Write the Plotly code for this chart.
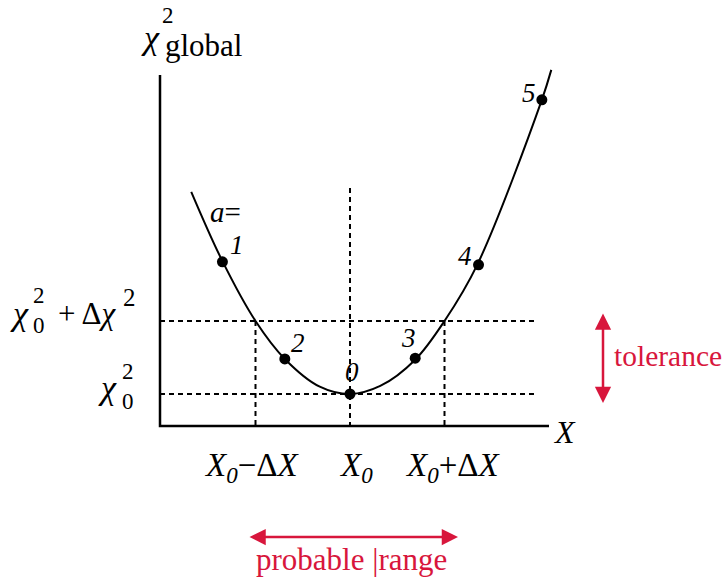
import plotly.graph_objects as go

# chi^2 curve; X in units of dX from X0, chi^2 in units of dchi^2 above chi0^2
curve_x = [-1.68, -1.35, -1.0, -0.69, -0.32, 0.0, 0.32, 0.69, 1.0, 1.35, 2.03, 2.13]
curve_y = [2.77, 1.82, 1.0, 0.48, 0.10, 0.0, 0.11, 0.47, 1.0, 1.78, 4.03, 4.44]

# sampled points, labelled by a
point_a = ["1", "2", "0", "3", "4", "5"]
point_x = [-1.35, -0.69, 0.0, 0.69, 1.36, 2.03]
point_y = [1.81, 0.48, 0.0, 0.49, 1.77, 4.03]

# reference levels
x_marks = [-1, 0, 1]
x_mark_labels = ["<i>X</i><sub><i>0</i></sub>−Δ<i>X</i>", "<i>X</i><sub><i>0</i></sub>",
                 "<i>X</i><sub><i>0</i></sub>+Δ<i>X</i>"]
chi_levels = [0, 1]

W, H = 726, 578
SX, SY = 94.5, 73.0          # pixels per unit
OX, OY = 350, 394            # pixel position of (X0, chi0^2)
XR = [-OX / SX, (W - OX) / SX]
YR = [(OY - H) / SY, OY / SY]

def dx(px):
    # pixel -> data x
    return (px - OX) / SX

def dy(py):
    return (OY - py) / SY

RED = "#d8163c"
SERIF = "Liberation Serif, Times New Roman, serif"

fig = go.Figure()

AX_L, AX_R = dx(160), dx(549)
AX_B, AX_T = dy(426), dy(75)
DASH_R = dx(538)

dash = dict(color="black", width=2, dash="5px,4px")
for c in chi_levels:
    fig.add_trace(go.Scatter(x=[AX_L, DASH_R], y=[c, c], mode="lines", line=dash, hoverinfo="skip"))
for xm in x_marks:
    top = dy(188) if xm == 0 else chi_levels[1]
    fig.add_trace(go.Scatter(x=[xm, xm], y=[top, AX_B], mode="lines", line=dash, hoverinfo="skip"))

# axes
fig.add_trace(go.Scatter(x=[AX_L, AX_L, AX_R], y=[AX_T, AX_B, AX_B], mode="lines",
                         line=dict(color="black", width=2.5), hoverinfo="skip"))

fig.add_trace(go.Scatter(x=curve_x, y=curve_y, mode="lines",
                         line=dict(color="black", width=2, shape="spline", smoothing=1.0)))
fig.add_trace(go.Scatter(x=point_x, y=point_y, mode="markers",
                         marker=dict(color="black", size=11)))

shifts = [(15, 17), (13, 16), (2, 22), (-7, 20), (-14, 9), (-13, 7)]
for a, x, y, (sx, sy) in zip(point_a, point_x, point_y, shifts):
    fig.add_annotation(x=x, y=y, text="<i>" + a + "</i>", showarrow=False, xshift=sx, yshift=sy,
                       font=dict(size=27, family=SERIF, color="black"))

for xm, lab, sx in zip(x_marks, x_mark_labels, [-4, 6, 8]):
    fig.add_annotation(x=xm, y=dy(467), text=lab, showarrow=False, xshift=sx,
                       font=dict(size=33, family=SERIF, color="black"))

def txt(px, py, text, size, color="black", anchor="left"):
    fig.add_annotation(x=dx(px), y=dy(py), text=text, showarrow=False, xanchor=anchor,
                       yanchor="middle", font=dict(size=size, family=SERIF, color=color))

# y label chi^2_global
txt(139, 37, "<i>χ</i>", 34)
txt(160, 15, "2", 23)
txt(163, 45, "global", 31)
txt(564, 432, "<i>X</i>", 32, anchor="center")
txt(225, 212, "<i>a</i>=", 29, anchor="center")

# chi0^2 + dchi^2 (stacked super/subscript)
txt(8, 313, "<i>χ</i>", 34)
txt(31, 310, "2<br>0", 23)
txt(56, 313, "+ Δ<i>χ</i>", 31)
txt(121, 297, "2", 25)
# chi0^2
txt(96, 387, "<i>χ</i>", 34)
txt(120, 386, "2<br>0", 23)

# red arrows
arrow = dict(showarrow=True, arrowcolor=RED, arrowwidth=2.5, arrowhead=2, arrowsize=1.3,
             arrowside="end+start", text="", xref="x", yref="y", axref="x", ayref="y",
             standoff=0, startstandoff=0, startarrowhead=2, startarrowsize=1.3)
fig.add_annotation(x=dx(603), y=dy(403), ax=dx(603), ay=dy(312), **arrow)
fig.add_annotation(x=dx(458), y=dy(537), ax=dx(248), ay=dy(537), **arrow)
txt(612, 356, "tolerance", 29.5, RED)
txt(254, 559, "probable |range", 31, RED)

fig.update_layout(
    width=W, height=H,
    margin=dict(l=0, r=0, t=0, b=0),
    paper_bgcolor="white", plot_bgcolor="white",
    showlegend=False,
    xaxis=dict(range=XR, visible=False, fixedrange=True),
    yaxis=dict(range=YR, visible=False, fixedrange=True),
)

# drop the default 8px body margin so the figure fills the window
fig.write_html("out.html", config={"displayModeBar": False},
               post_script="document.body.style.margin='0';")
